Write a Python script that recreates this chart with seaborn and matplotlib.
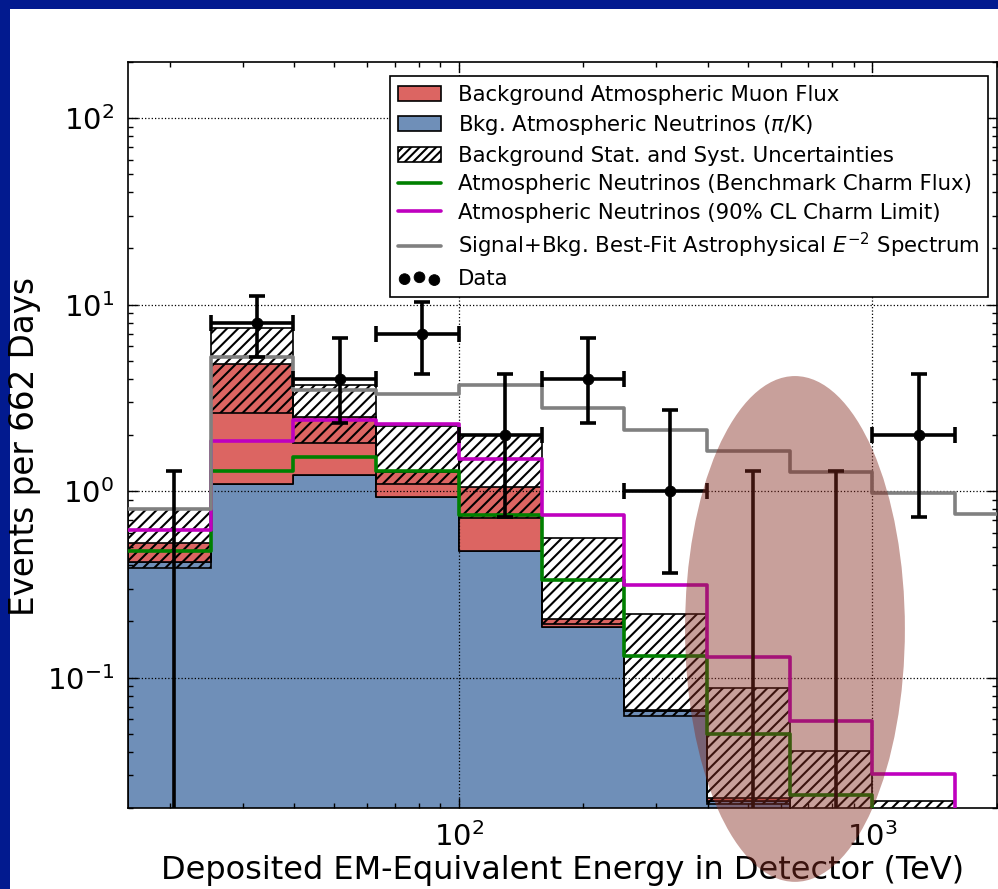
import numpy as np
import pandas as pd
import matplotlib
matplotlib.use("Agg")
import matplotlib.pyplot as plt
import seaborn as sns
from matplotlib.patches import Patch, Ellipse, Rectangle
from matplotlib.lines import Line2D

# bin edges in deposited energy (TeV)
bin_edges = [15.85, 25.12, 39.81, 63.10, 100.0, 158.5, 251.2, 398.1, 631.0, 1000.0, 1585.0, 2512.0]

# stacked backgrounds (events per bin)
bkg_nu_pik = [0.418, 1.09, 1.22, 0.93, 0.477, 0.187, 0.066, 0.0218, 0.012, 0.006, 0.003]
bkg_muon = [0.11, 3.73, 1.27, 0.33, 0.57, 0.018, 0.001, 0.0007, 0.001, 0.0005, 0.0]

# background uncertainty band
unc_low = [0.388, 2.63, 1.82, 1.09, 0.72, 0.193, 0.062, 0.021, 0.011, 0.005, 0.002]
unc_high = [0.798, 7.45, 3.70, 2.23, 2.01, 0.562, 0.22, 0.088, 0.0404, 0.0218, 0.012]

# step curves
charm_bench = [0.477, 1.28, 1.52, 1.29, 0.743, 0.332, 0.130, 0.050, 0.0234, 0.012, 0.007]
charm_limit = [0.618, 1.85, 2.42, 2.30, 1.49, 0.743, 0.313, 0.129, 0.0585, 0.0305, 0.012]
best_fit = [0.80, 5.25, 3.47, 3.32, 3.73, 2.80, 2.14, 1.64, 1.27, 0.98, 0.75]

# observed events (first ten bins) with 68% intervals
data_counts = [0, 8, 4, 7, 2, 4, 1, 0, 0, 2]
data_lo = [0, 5.23, 2.33, 4.24, 0.73, 2.33, 0.363, 0, 0, 0.73]
data_hi = [1.29, 11.1, 6.65, 10.3, 4.25, 6.65, 2.72, 1.29, 1.29, 4.25]

RED = "#dc6562"
BLUE = "#6f8fb8"

sns.set_style("ticks")
plt.rcParams["font.family"] = ["DejaVu Sans"]
plt.rcParams["hatch.linewidth"] = 1.5
plt.rcParams["axes.unicode_minus"] = False
for key in ["text.color", "axes.labelcolor", "xtick.color", "ytick.color"]:
    plt.rcParams[key] = "black"

edges = np.array(bin_edges)
centers = (edges[:-1] + edges[1:]) / 2
nb = len(bkg_nu_pik)

fig = plt.figure(figsize=(9.98, 8.89), dpi=100, facecolor="#021a8f")
fig.add_artist(Rectangle((10 / 998, 0), 1, 1 - 9 / 889, transform=fig.transFigure,
                         facecolor="white", edgecolor="none", zorder=-5))
ax = fig.add_axes([128 / 998, 1 - 808 / 889, 869 / 998, 746 / 889])
ax.set_xscale("log")
ax.set_yscale("log")

# stacked background histogram
df = pd.DataFrame({
    "E": np.concatenate([centers, centers]),
    "w": np.concatenate([bkg_muon, bkg_nu_pik]),
    "comp": ["muon"] * nb + ["nu"] * nb,
})
sns.histplot(data=df, x="E", weights="w", hue="comp", hue_order=["muon", "nu"],
             multiple="stack", element="step", bins=list(np.log10(edges)),
             palette={"muon": RED, "nu": BLUE}, alpha=1, edgecolor="k",
             linewidth=1.2, legend=False, ax=ax)

# uncertainty band
ax.bar(edges[:-1], np.array(unc_high) - np.array(unc_low), bottom=unc_low,
       width=np.diff(edges), align="edge", fill=False, hatch="///",
       edgecolor="k", linewidth=1.2, zorder=3)

# step lines
for vals, col in [(charm_bench, "#008000"), (charm_limit, "#bf00bf"), (best_fit, "#808080")]:
    sns.lineplot(x=edges, y=np.append(vals, vals[-1]), drawstyle="steps-post",
                 color=col, linewidth=2.6, ax=ax, zorder=4)

# data with error bars
cnt = np.array(data_counts, dtype=float)
n = len(cnt)
ax.errorbar(centers[:n], cnt,
            yerr=[cnt - np.array(data_lo), np.array(data_hi) - cnt],
            xerr=[centers[:n] - edges[:n], edges[1:n + 1] - centers[:n]],
            fmt="none", ecolor="k", elinewidth=2.6, capsize=6, capthick=2.6, zorder=5)
mask = cnt > 0
sns.scatterplot(x=centers[:n][mask], y=cnt[mask], color="k", s=60,
                edgecolor="k", ax=ax, zorder=6, legend=False)
data_pts = ax.collections[-1]

ax.set_xlim(edges[0], 2000)
ax.set_ylim(0.02, 200)
ax.grid(True, which="major", linestyle=":", color="k", linewidth=0.9)
ax.set_axisbelow(False)
ax.tick_params(which="both", direction="in", top=True, right=True, width=1)
ax.tick_params(which="major", length=7, labelsize=21, pad=10)
ax.tick_params(which="minor", length=3.5)
for s in ax.spines.values():
    s.set_linewidth(1.2)
    s.set_color("k")
ax.set_xlabel("Deposited EM-Equivalent Energy in Detector (TeV)", fontsize=23, labelpad=2)
ax.set_ylabel("Events per 662 Days", fontsize=23.5)
ax.yaxis.set_label_coords(-0.100, 0.485)

handles = [
    Patch(facecolor=RED, edgecolor="k", linewidth=1.2),
    Patch(facecolor=BLUE, edgecolor="k", linewidth=1.2),
    Patch(facecolor="white", edgecolor="k", hatch="////", linewidth=1.2),
    Line2D([], [], color="#008000", linewidth=2.6),
    Line2D([], [], color="#bf00bf", linewidth=2.6),
    Line2D([], [], color="#808080", linewidth=2.6),
    data_pts,
]
labels = [
    "Background Atmospheric Muon Flux",
    r"Bkg. Atmospheric Neutrinos ($\pi$/K)",
    "Background Stat. and Syst. Uncertainties",
    "Atmospheric Neutrinos (Benchmark Charm Flux)",
    "Atmospheric Neutrinos (90% CL Charm Limit)",
    r"Signal+Bkg. Best-Fit Astrophysical $E^{-2}$ Spectrum",
    "Data",
]
leg = ax.legend(handles, labels, loc="upper right", bbox_to_anchor=(0.9896, 0.9812),
                borderaxespad=0, fontsize=15.3, fancybox=False, framealpha=1,
                edgecolor="k", handlelength=2.0, scatterpoints=3,
                scatteryoffsets=[0.375, 0.5, 0.3125], labelspacing=0.4)
leg.get_frame().set_linewidth(1.2)
leg.set_zorder(8)

ax.add_patch(Ellipse((0.7675, 0.24), 0.253, 0.678, transform=ax.transAxes,
                     facecolor="#852c21", alpha=0.45, edgecolor="none",
                     clip_on=False, zorder=10))

fig.savefig("out.png", dpi=100, facecolor=fig.get_facecolor())
